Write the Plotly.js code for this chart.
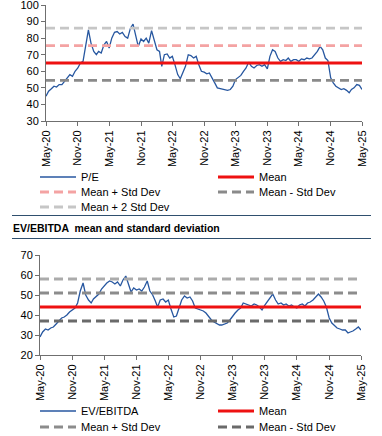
<!DOCTYPE html>
<html>
<head>
<meta charset="utf-8">
<script src="https://cdn.plot.ly/plotly-3.0.1.min.js"></script>
<style>
html,body{margin:0;padding:0;background:#fff;}
#chart{width:382px;height:436px;}
</style>
</head>
<body>
<div id="chart"></div>
<script>
// Semi-monthly observations from May-20 to May-25
var startDate = "2020-05-01";
var tickLabels = ["May-20","Nov-20","May-21","Nov-21","May-22","Nov-22","May-23","Nov-23","May-24","Nov-24","May-25"];
var tickDates = ["2020-05-01","2020-11-01","2021-05-01","2021-11-01","2022-05-01","2022-11-01","2023-05-01","2023-11-01","2024-05-01","2024-11-01","2025-05-01"];

var peValues = [45,48,49.5,51,50.5,52,52,54,56.5,58,57,60,62,65,66,76,85,77,72,70,
  72,71,76,78,74,80,83.5,84,82.5,83.5,81,80,86,88.5,82,75,79.5,78,80,77,
  84.5,78,73,72,63,70,70.5,68,69,64,58,55.5,59,63,70,69.5,68,69,64,60,
  59.5,58.5,59,56.5,53,50,49.5,49,49,48.5,49,51,55,56.5,57.5,60,62,65.5,63,62,
  63.5,64,63,64,61.5,69,73,72,68,66,67,66.5,68,66,67,67,66,67.5,67,68,
  67.5,68,70,72,75,73,68,66.5,56,53,51,50,49,49.5,48.5,47,49,50,52,51.5,49];
var peMean = 65, pePlusSd = 75.5, peMinusSd = 54.5, pePlus2Sd = 86;

var evValues = [29,31.5,33,32.5,33.5,34,35.5,37,38.5,39,40,41.5,42.5,43.5,46,52,56,50,47.5,46,
  48,49,50.5,53,54.5,56,57,56.5,55.5,56.5,54.5,57.5,59.5,56,51.5,53.5,52.5,53,52,54,
  57,52,50,47,44,47.5,48,46.5,47.5,43,39,39.5,43,47.5,49.5,48.5,49,47,43.5,43,
  42.5,42,41,39,37.5,36.5,35.5,35,35,35.5,36,37.5,39.5,41,42.5,43.5,46,45.5,45,44.5,
  45.5,45,44,42.5,45,47,49,50.5,47.5,45.5,46,45,45.5,44.5,45,44,43.5,45,45.5,44.5,
  46,46.5,47.5,49,50.5,49,47,44,38.5,36,34.5,33.5,33,32.5,32.5,31,31.5,32,33,34,32.5];
var evMean = 44, evPlusSd = 51, evMinusSd = 37, evPlus2Sd = 58;

function buildDates(n){
  var out = [];
  var d0 = new Date(startDate + "T00:00:00Z");
  for (var i = 0; i < n; i++){
    var mIdx = Math.floor(i/2);
    var d = new Date(Date.UTC(d0.getUTCFullYear(), d0.getUTCMonth() + mIdx, (i % 2 === 0) ? 1 : 16));
    out.push(d.toISOString().slice(0,10));
  }
  return out;
}
var peDates = buildDates(peValues.length);
var evDates = buildDates(evValues.length);
function flat(dates, v){ return dates.map(function(){ return v; }); }

var FONT = "Liberation Sans, Arial, sans-serif";
var blue = "#2757a0", red = "#ee1111";
var DASH = "9px,5px";

var traces = [
  {x: peDates, y: peValues, type:"scatter", mode:"lines", name:"P/E", line:{color:blue, width:1.3}, xaxis:"x", yaxis:"y", legend:"legend"},
  {x: peDates, y: flat(peDates, peMean), type:"scatter", mode:"lines", name:"Mean", line:{color:red, width:3}, xaxis:"x", yaxis:"y", legend:"legend2"},
  {x: peDates, y: flat(peDates, pePlusSd), type:"scatter", mode:"lines", name:"Mean + Std Dev", line:{color:"#f4a3a3", width:2.8, dash:DASH}, xaxis:"x", yaxis:"y", legend:"legend3"},
  {x: peDates, y: flat(peDates, peMinusSd), type:"scatter", mode:"lines", name:"Mean - Std Dev", line:{color:"#8a8a8a", width:2.8, dash:DASH}, xaxis:"x", yaxis:"y", legend:"legend4"},
  {x: peDates, y: flat(peDates, pePlus2Sd), type:"scatter", mode:"lines", name:"Mean + 2 Std Dev", line:{color:"#c6c6c6", width:2.8, dash:DASH}, xaxis:"x", yaxis:"y", legend:"legend5"},

  {x: evDates, y: evValues, type:"scatter", mode:"lines", name:"EV/EBITDA", line:{color:blue, width:1.3}, xaxis:"x2", yaxis:"y2", legend:"legend6"},
  {x: evDates, y: flat(evDates, evMean), type:"scatter", mode:"lines", name:"Mean", line:{color:red, width:3}, xaxis:"x2", yaxis:"y2", legend:"legend7"},
  {x: evDates, y: flat(evDates, evPlusSd), type:"scatter", mode:"lines", name:"Mean + Std Dev", line:{color:"#8c8c8c", width:2.8, dash:DASH}, xaxis:"x2", yaxis:"y2", legend:"legend8"},
  {x: evDates, y: flat(evDates, evMinusSd), type:"scatter", mode:"lines", name:"Mean - Std Dev", line:{color:"#6a6a6a", width:2.8, dash:DASH}, xaxis:"x2", yaxis:"y2", legend:"legend9"},
  {x: evDates, y: flat(evDates, evPlus2Sd), type:"scatter", mode:"lines", name:"Mean + 2 Std Dev", line:{color:"#ababab", width:2.8, dash:DASH}, xaxis:"x2", yaxis:"y2", showlegend:false}
];

var W = 382, H = 436;
function px(x){ return x / W; }
function py(y){ return 1 - y / H; }

var xCommon = {
  type:"date", range:["2020-05-01","2025-05-01"], tickmode:"array", tickvals:tickDates, ticktext:tickLabels,
  tickangle:-90, tickfont:{family:FONT, size:11, color:"#000"}, showgrid:false, zeroline:false,
  showline:true, linecolor:"#6f6f6f", linewidth:1, ticks:"outside", ticklen:4, tickcolor:"#6f6f6f", automargin:false,
  ticklabeloverflow:"allow"
};
var yCommon = {
  showgrid:false, zeroline:false, showline:true, linecolor:"#6f6f6f", linewidth:1,
  ticks:"outside", ticklen:4, tickcolor:"#6f6f6f", tickfont:{family:FONT, size:11, color:"#000"}, dtick:10, automargin:false,
  ticklabeloverflow:"allow"
};

function leg(xp, yp){
  return {orientation:"h", xref:"container", yref:"container", x:px(xp), y:py(yp), xanchor:"left", yanchor:"middle",
    font:{family:FONT, size:11, color:"#000"}, itemwidth:36, bgcolor:"rgba(0,0,0,0)", borderwidth:0};
}

var layout = {
  width:W, height:H, margin:{l:0,r:0,t:0,b:0, autoexpand:false}, paper_bgcolor:"#fff", plot_bgcolor:"#fff",
  font:{family:FONT, size:11, color:"#000"},
  xaxis: Object.assign({}, xCommon, {domain:[px(46), px(362)], anchor:"y"}),
  yaxis: Object.assign({}, yCommon, {domain:[py(121), py(5)], range:[30,100], anchor:"x"}),
  xaxis2: Object.assign({}, xCommon, {domain:[px(40), px(361)], anchor:"y2"}),
  yaxis2: Object.assign({}, yCommon, {domain:[py(355), py(255)], range:[20,70], anchor:"x2"}),
  legend: leg(35, 177), legend2: leg(213, 177),
  legend3: leg(35, 192), legend4: leg(213, 192),
  legend5: leg(35, 207),
  legend6: leg(35, 411), legend7: leg(213, 411),
  legend8: leg(35, 427), legend9: leg(213, 427),
  shapes: [
    {type:"line", xref:"paper", yref:"paper", x0:px(12), x1:px(371), y0:py(215.5), y1:py(215.5), line:{color:"#2f4f6e", width:1}},
    {type:"line", xref:"paper", yref:"paper", x0:px(12), x1:px(371), y0:py(238.5), y1:py(238.5), line:{color:"#2f4f6e", width:1}}
  ],
  annotations: [
    {text:"<b>EV/EBITDA  mean and standard deviation</b>", xref:"paper", yref:"paper", x:px(11), y:py(227.5),
     xanchor:"left", yanchor:"middle", showarrow:false, font:{family:FONT, size:10.5, color:"#000"}}
  ]
};

Plotly.newPlot("chart", traces, layout, {displayModeBar:false, staticPlot:true});
</script>
</body>
</html>
